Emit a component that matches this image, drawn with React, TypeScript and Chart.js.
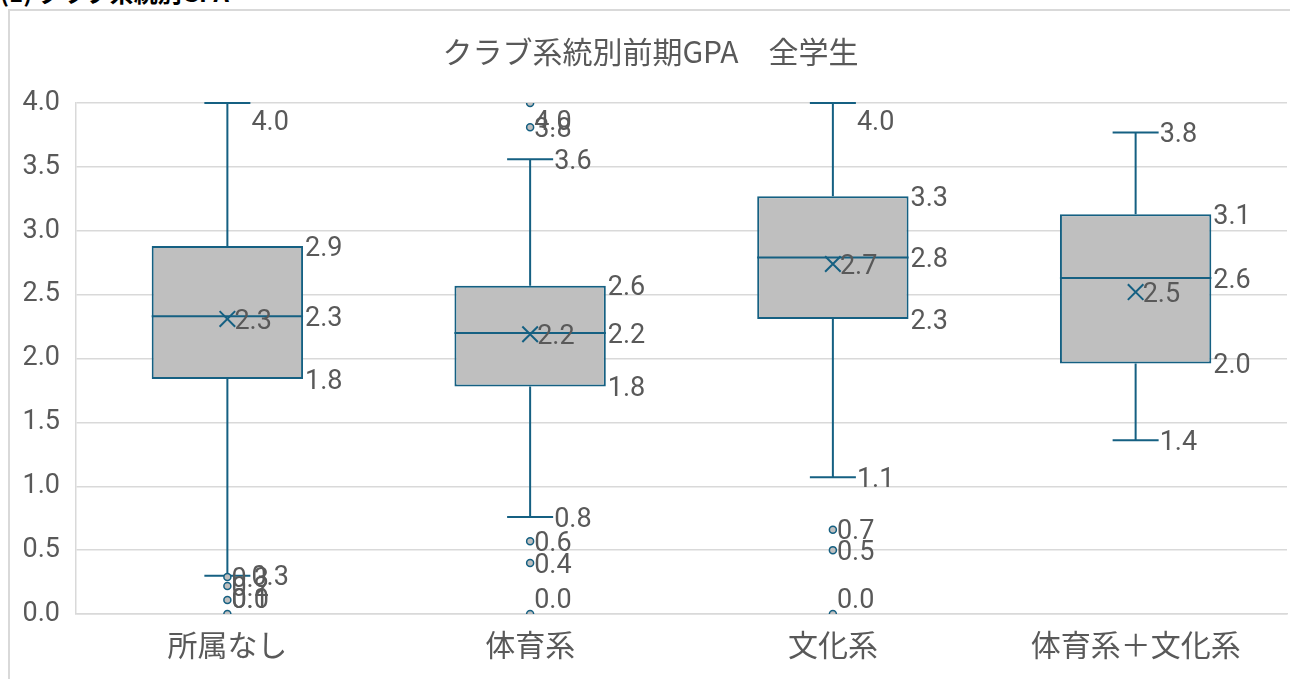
import React, { useEffect, useRef } from "react";
import { Chart, registerables } from "chart.js";

Chart.register(...registerables);

const categories = ["所属なし", "体育系", "文化系", "体育系＋文化系"];
const whiskerMax = [4.0, 3.56, 4.0, 3.77];
const q3 = [2.88, 2.57, 3.27, 3.13];
const median = [2.33, 2.2, 2.79, 2.63];
const q1 = [1.84, 1.78, 2.31, 1.96];
const whiskerMin = [0.3, 0.76, 1.07, 1.36];
const means = [2.31, 2.19, 2.74, 2.52];
const outliers: number[][] = [
  [0.29, 0.22, 0.11, 0.0],
  [4.0, 3.81, 0.57, 0.4, 0.0],
  [0.66, 0.5, 0.0],
  [],
];
const yTicks = [0, 0.5, 1, 1.5, 2, 2.5, 3, 3.5, 4];

const LINE = "#156082";
const FILL = "#BFBFBF";
const TEXT = "#595959";
const GRID = "#D9D9D9";
const NUM_FONT = "Roboto, 'Noto Sans CJK JP', sans-serif";
const JP_FONT = "'Noto Sans CJK JP', sans-serif";

const boxPlugin = {
  id: "boxExtras",
  beforeDatasetsDraw(chart: any) {
    const meta = chart.getDatasetMeta(0);
    const y = chart.scales.y;
    const ctx = chart.ctx;
    ctx.save();
    ctx.strokeStyle = LINE;
    ctx.lineWidth = 2;
    meta.data.forEach((bar: any, i: number) => {
      const cx = bar.x;
      const cap = bar.width * 0.152;
      const yMax = y.getPixelForValue(whiskerMax[i]);
      const yQ3 = y.getPixelForValue(q3[i]);
      const yQ1 = y.getPixelForValue(q1[i]);
      const yMin = y.getPixelForValue(whiskerMin[i]);
      ctx.beginPath();
      ctx.moveTo(cx, yQ3);
      ctx.lineTo(cx, yMax);
      ctx.moveTo(cx - cap, yMax);
      ctx.lineTo(cx + cap, yMax);
      ctx.moveTo(cx, yQ1);
      ctx.lineTo(cx, yMin);
      ctx.moveTo(cx - cap, yMin);
      ctx.lineTo(cx + cap, yMin);
      ctx.stroke();
    });
    ctx.restore();
  },
  afterDatasetDraw(chart: any, args: any) {
    if (args.index !== 0) return;
    const meta = chart.getDatasetMeta(0);
    const y = chart.scales.y;
    const ctx = chart.ctx;
    ctx.save();
    ctx.strokeStyle = LINE;
    ctx.lineWidth = 2;
    meta.data.forEach((bar: any, i: number) => {
      const ym = y.getPixelForValue(median[i]);
      ctx.beginPath();
      ctx.moveTo(bar.x - bar.width / 2, ym);
      ctx.lineTo(bar.x + bar.width / 2, ym);
      ctx.stroke();
    });
    ctx.restore();
  },
  afterDatasetsDraw(chart: any) {
    const meta = chart.getDatasetMeta(0);
    const y = chart.scales.y;
    const area = chart.chartArea;
    const ctx = chart.ctx;
    ctx.save();
    ctx.fillStyle = TEXT;
    ctx.font = `27px ${NUM_FONT}`;
    ctx.textAlign = "left";
    ctx.textBaseline = "middle";
    const put = (v: number, x: number) => {
      let py = y.getPixelForValue(v) + 3;
      py = Math.max(area.top + 20, Math.min(area.bottom - 13, py));
      ctx.fillText(v.toFixed(1), x, py);
    };
    meta.data.forEach((bar: any, i: number) => {
      const cx = bar.x;
      const cap = bar.width * 0.152;
      const right = cx + bar.width / 2;
      outliers[i].forEach((v) => put(v, cx + 4));
      put(whiskerMax[i], cx + cap + 1);
      put(whiskerMin[i], cx + cap + 1);
      put(q3[i], right + 2);
      put(median[i], right + 2);
      put(q1[i], right + 2);
      put(means[i], cx + 7);
    });
    ctx.restore();
  },
};

export default function App() {
  const ref = useRef<HTMLCanvasElement | null>(null);
  useEffect(() => {
    if (!ref.current) return;
    const outlierPoints: { x: string; y: number }[] = [];
    outliers.forEach((arr, i) => arr.forEach((v) => outlierPoints.push({ x: categories[i], y: v })));
    const chart = new Chart(ref.current, {
      type: "bar",
      data: {
        labels: categories,
        datasets: [
          {
            type: "bar",
            data: q1.map((v, i) => [v, q3[i]]) as any,
            backgroundColor: FILL,
            borderColor: LINE,
            borderWidth: 2,
            borderSkipped: false,
            barPercentage: 0.5,
            categoryPercentage: 1,
            order: 3,
          } as any,
          {
            type: "line",
            data: outlierPoints as any,
            showLine: false,
            pointStyle: "circle",
            pointRadius: 3.5,
            pointBackgroundColor: FILL,
            pointBorderColor: LINE,
            pointBorderWidth: 1.5,
            order: 1,
          } as any,
          {
            type: "line",
            data: means,
            showLine: false,
            pointStyle: "crossRot",
            pointRadius: 11,
            pointBorderColor: LINE,
            pointBorderWidth: 2,
            order: 0,
          } as any,
        ],
      },
      options: {
        responsive: false,
        animation: false,
        layout: { padding: { left: 0, right: 9, top: 0, bottom: 0 } },
        plugins: {
          legend: { display: false },
          tooltip: { enabled: false },
          title: {
            display: true,
            text: "クラブ系統別前期GPA　全学生",
            color: TEXT,
            font: { size: 30, family: JP_FONT, weight: "normal" as any, lineHeight: 1.2 },
            padding: { top: 22, bottom: 33 },
          },
        },
        scales: {
          x: {
            grid: { display: false, drawTicks: false, tickLength: 0 },
            border: { display: true, color: GRID, width: 1.5 },
            ticks: {
              color: TEXT,
              padding: 13,
              font: { size: 30, family: JP_FONT },
              maxRotation: 0,
            },
            afterFit: (s: any) => {
              s.height = 65;
            },
          },
          y: {
            min: 0,
            max: 4,
            grid: { color: GRID, lineWidth: 1.5, drawTicks: false, tickLength: 0 },
            border: { display: true, color: GRID, width: 1.5 },
            afterBuildTicks: (s: any) => {
              s.ticks = yTicks.map((v) => ({ value: v }));
            },
            ticks: {
              color: TEXT,
              padding: 16,
              font: { size: 27, family: NUM_FONT },
              callback: (v: any) => Number(v).toFixed(1),
            },
            afterFit: (s: any) => {
              s.width = 66;
            },
          },
        },
      },
      plugins: [boxPlugin],
    });
    return () => chart.destroy();
  }, []);

  return (
    <div
      style={{
        position: "fixed",
        left: 0,
        top: 0,
        width: 1290,
        height: 679,
        overflow: "hidden",
        background: "#fff",
      }}
    >
      <div
        style={{
          position: "absolute",
          left: 0,
          top: -20,
          fontFamily: JP_FONT,
          fontWeight: "bold",
          fontSize: 24,
          lineHeight: "24px",
          whiteSpace: "nowrap",
          color: "#000",
        }}
      >
        (1) クラブ系統別GPA
      </div>
      <div
        style={{
          position: "absolute",
          left: 8,
          top: 9,
          width: 1400,
          height: 800,
          border: `2px solid ${GRID}`,
          boxSizing: "border-box",
        }}
      />
      <canvas
        ref={ref}
        width={1290}
        height={667}
        style={{ position: "absolute", left: 10, top: 12, width: 1290, height: 667 }}
      />
    </div>
  );
}
